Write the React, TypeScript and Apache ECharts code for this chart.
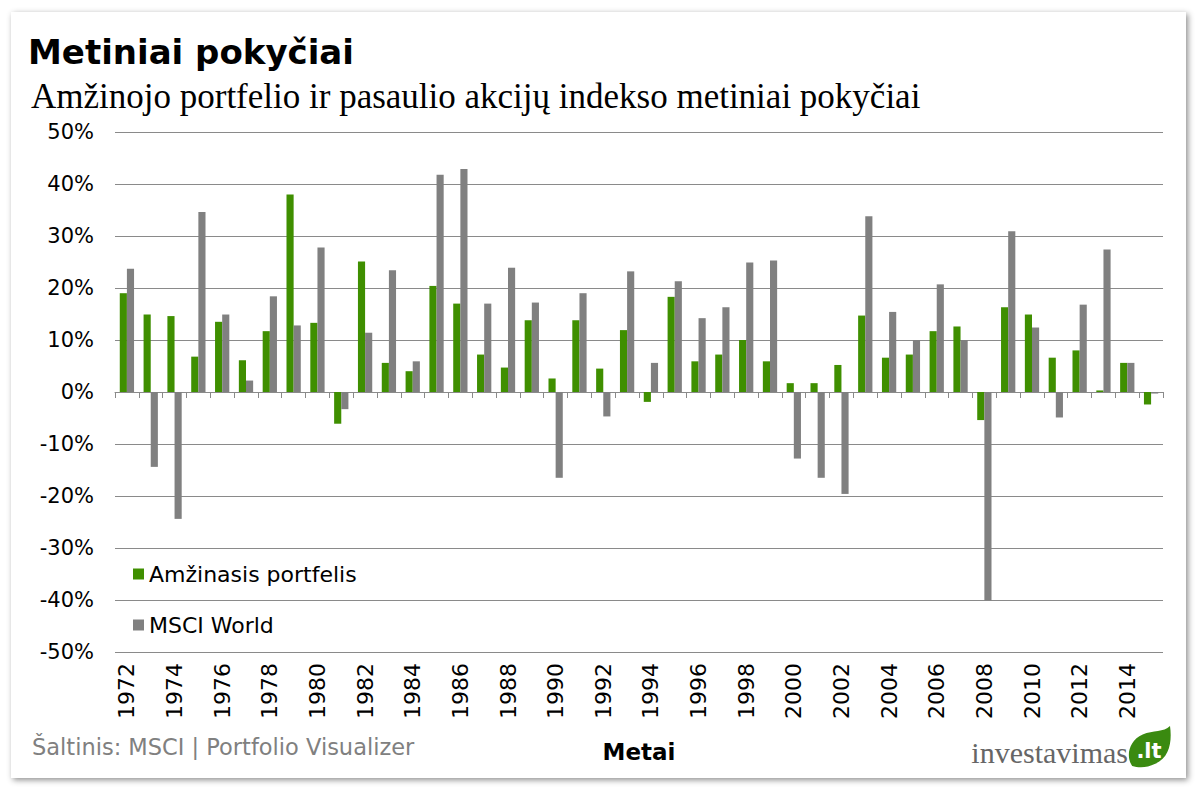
import React, { useEffect, useRef } from "react";
import * as echarts from "echarts";

const years = [
  "1972", "1973", "1974", "1975", "1976", "1977", "1978", "1979", "1980", "1981",
  "1982", "1983", "1984", "1985", "1986", "1987", "1988", "1989", "1990", "1991",
  "1992", "1993", "1994", "1995", "1996", "1997", "1998", "1999", "2000", "2001",
  "2002", "2003", "2004", "2005", "2006", "2007", "2008", "2009", "2010", "2011",
  "2012", "2013", "2014", "2015",
];

const permanentPortfolio = [
  19.0, 14.9, 14.6, 6.8, 13.5, 6.1, 11.7, 38.0, 13.3, -6.1,
  25.1, 5.6, 4.0, 20.4, 17.0, 7.2, 4.7, 13.8, 2.6, 13.8,
  4.5, 11.9, -1.9, 18.3, 5.9, 7.2, 10.0, 5.9, 1.7, 1.7,
  5.2, 14.7, 6.6, 7.2, 11.7, 12.6, -5.4, 16.3, 14.9, 6.6,
  8.0, 0.3, 5.6, -2.4,
];

const msciWorld = [
  23.7, -14.4, -24.4, 34.6, 14.9, 2.2, 18.4, 12.8, 27.8, -3.3,
  11.4, 23.4, 5.9, 41.8, 42.9, 17.0, 23.9, 17.2, -16.5, 19.0,
  -4.7, 23.2, 5.6, 21.3, 14.2, 16.3, 24.9, 25.3, -12.8, -16.5,
  -19.6, 33.8, 15.4, 10.0, 20.7, 10.0, -40.1, 30.9, 12.4, -4.9,
  16.8, 27.4, 5.6, -0.3,
];

const seriesNames = ["Amžinasis portfelis", "MSCI World"];
const titleText = "Metiniai pokyčiai";
const subtitleText = "Amžinojo portfelio ir pasaulio akcijų indekso metiniai pokyčiai";
const sourceText = "Šaltinis: MSCI | Portfolio Visualizer";
const axisName = "Metai";

const GREEN = "#3f8f00";
const GREY = "#808080";
const GRID = "#8a8a8a";
const SANS = "DejaVu Sans";

const leafPath = "M4 38 C-2 30 0 14 14 8 C24 4 34 6 40 0 C42 14 40 30 26 36 C18 40 10 40 4 38 Z";
echarts.graphic.registerShape("leafShape", echarts.graphic.extendPath(leafPath, {}) as any);

export default function App() {
  const ref = useRef<HTMLDivElement>(null);

  useEffect(() => {
    if (!ref.current) return;
    const chart = echarts.init(ref.current, undefined, { renderer: "svg" });
    chart.setOption({
      animation: false,
      title: [
        {
          text: titleText,
          left: 28,
          top: 35,
          padding: 0,
          textStyle: { fontFamily: SANS, fontWeight: "bold", fontSize: 34, color: "#000" },
        },
        {
          text: subtitleText,
          left: 31,
          top: 79,
          padding: 0,
          textStyle: { fontFamily: "Liberation Serif", fontWeight: "normal", fontSize: 35, color: "#000" },
        },
      ],
      legend: {
        orient: "vertical",
        left: 128,
        top: 558,
        itemWidth: 11,
        itemHeight: 11,
        itemGap: 29,
        icon: "rect",
        textStyle: { fontFamily: SANS, fontSize: 22, color: "#000" },
        data: seriesNames,
      },
      grid: { left: 115, right: 37, top: 132, bottom: 140, containLabel: false },
      xAxis: [
        {
          type: "category",
          data: years,
          axisLine: { onZero: true, lineStyle: { color: GRID, width: 1 } },
          axisTick: { show: true, interval: 0, length: 6, lineStyle: { color: GRID } },
          axisLabel: { show: false },
          splitLine: { show: false },
        },
        {
          type: "category",
          data: years,
          position: "bottom",
          axisLine: { show: false, onZero: false },
          axisTick: { show: false },
          axisLabel: {
            show: true,
            interval: 1,
            rotate: 90,
            margin: 11,
            fontFamily: SANS,
            fontSize: 22,
            color: "#000",
          },
          name: axisName,
          nameLocation: "middle",
          nameGap: 88,
          nameTextStyle: { fontFamily: SANS, fontWeight: "bold", fontSize: 23, color: "#000" },
        },
      ],
      yAxis: {
        type: "value",
        min: -50,
        max: 50,
        interval: 10,
        axisLine: { show: false },
        axisTick: { show: false },
        axisLabel: {
          formatter: "{value}%",
          margin: 21,
          fontFamily: SANS,
          fontSize: 21,
          color: "#000",
        },
        splitLine: { lineStyle: { color: GRID, width: 1 } },
      },
      series: [
        {
          name: seriesNames[0],
          type: "bar",
          xAxisIndex: 0,
          data: permanentPortfolio,
          itemStyle: { color: GREEN },
          barGap: "0%",
          barCategoryGap: "40%",
        },
        {
          name: seriesNames[1],
          type: "bar",
          xAxisIndex: 0,
          data: msciWorld,
          itemStyle: { color: GREY },
          barGap: "0%",
          barCategoryGap: "40%",
        },
      ],
      graphic: [
        {
          type: "text",
          left: 32,
          top: 735,
          style: { text: sourceText, fontFamily: SANS, fontSize: 22.5, fill: "#808080" },
        },
        {
          type: "text",
          x: 1128,
          y: 752,
          style: {
            text: "investavimas",
            fontFamily: "Liberation Serif",
            fontSize: 30,
            fill: "#666666",
            align: "right",
            verticalAlign: "middle",
          },
        },
        {
          type: "leafShape",
          x: 1128,
          y: 726,
          scaleX: 1.05,
          scaleY: 1.05,
          z: 10,
          style: { fill: "#3a8a10" },
        },
        {
          type: "text",
          x: 1149,
          y: 751,
          z: 11,
          style: {
            text: ".lt",
            fontFamily: "DejaVu Sans",
            fontWeight: "bold",
            fontSize: 21,
            fill: "#ffffff",
            align: "center",
            verticalAlign: "middle",
          },
        },
      ],
    });
    return () => chart.dispose();
  }, []);

  return (
    <div style={{ position: "fixed", left: 0, top: 0, width: 1200, height: 792, background: "#ffffff" }}>
      <div
        style={{
          position: "absolute",
          left: 11,
          top: 12,
          width: 1175,
          height: 766,
          background: "#ffffff",
          boxShadow: "2px 2px 6px rgba(0,0,0,0.45)",
        }}
      />
      <div ref={ref} style={{ position: "absolute", left: 0, top: 0, width: 1200, height: 792 }} />
    </div>
  );
}
